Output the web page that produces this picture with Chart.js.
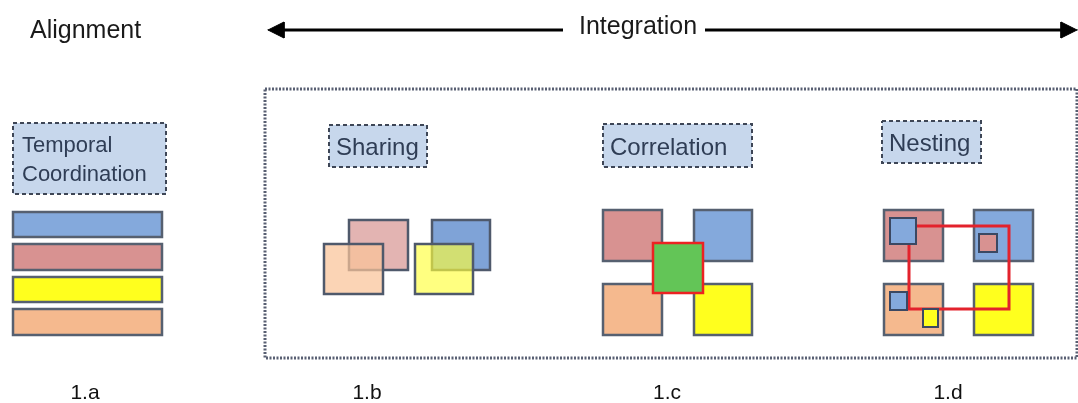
<!DOCTYPE html>
<html>
<head>
<meta charset="utf-8">
<script src="https://cdn.jsdelivr.net/npm/chart.js@4/dist/chart.umd.min.js"></script>
<style>
  html, body { margin: 0; background: #fff; }
  #wrap { width: 1078px; height: 403px; }
</style>
</head>
<body>
<div id="wrap"><canvas id="diagram"></canvas></div>
<script>
// figure units = pixels of the original figure (x right, y down)
const headings = ['Alignment', 'Integration'];
const headingAnchors = [[30, 38], [579, 34]];
const integrationArrows = [[563, 268, 30], [705, 1077, 30]]; // [from, tip, y]

const panelLabels = ['1.a', '1.b', '1.c', '1.d'];
const panelCenters = [85, 367, 667, 948];

const tagNames = [['Temporal', 'Coordination'], ['Sharing'], ['Correlation'], ['Nesting']];
const tagBoxes = [[13, 123, 166, 194], [329, 125, 427, 167], [603, 124, 752, 167], [882, 121, 981, 163]];
const tagBaselines = [[152, 181], [155], [155], [151]];
const tagFontSizes = [22, 24, 24, 24];

const integrationFrame = [265, 89, 1077, 358];

const timelineBars = [[13, 212, 162, 237], [13, 244, 162, 270], [13, 277, 162, 302], [13, 309, 162, 335]];
const timelineKinds = ['blue', 'red', 'yellow', 'orange'];

const sharingBoxes = [[349, 220, 408, 270], [432, 220, 490, 270], [324, 244, 383, 294], [415, 244, 473, 294]];
const sharingKinds = ['pinkBack', 'blueBack', 'peachFront', 'yellowFront'];

const correlationBoxes = [[603, 210, 662, 261], [694, 210, 752, 261], [603, 284, 662, 335], [694, 284, 752, 335]];
const correlationKinds = ['red', 'blue', 'orange', 'yellow'];
const correlationLink = [653, 243, 703, 293];

const nestingBoxes = [[884, 210, 943, 261], [974, 210, 1033, 261], [884, 284, 943, 335], [974, 284, 1033, 335]];
const nestingKinds = ['red', 'blue', 'orange', 'yellow'];
const nestingLink = [909, 226, 1009, 309];
const nestedBoxes = [[890, 218, 916, 244], [979, 234, 997, 252], [890, 292, 907, 310], [923, 309, 938, 327]];
const nestedKinds = ['blue', 'red', 'blue', 'yellow'];

const palette = {
    blue: '#84a9dc',
    red: '#d89291',
    yellow: '#ffff1e',
    orange: '#f5b98e',
    pinkBack: '#e3b4b2',
    blueBack: '#7fa3d7',
    peachFront: 'rgba(250, 196, 152, 0.72)',
    yellowFront: 'rgba(255, 255, 60, 0.65)'
};
const edge = '#566070';
const FONT = '"Liberation Sans", Arial, Helvetica, sans-serif';

const datasets = [];

function addShape(points, opts) {
    datasets.push(Object.assign({
        data: points.map(p => ({ x: p[0], y: p[1] })),
        pointRadius: 0,
        pointHoverRadius: 0,
        tension: 0,
        borderJoinStyle: 'miter',
        borderCapStyle: 'square',
        fill: false,
        order: -datasets.length
    }, opts));
}

function addBox(b, fill, stroke, width, dash) {
    const pts = [[b[0], b[1]], [b[2], b[1]], [b[2], b[3]], [b[0], b[3]], [b[0], b[1]]];
    addShape(pts, {
        backgroundColor: fill || 'transparent',
        borderColor: stroke,
        borderWidth: width,
        borderDash: dash || [],
        borderCapStyle: dash ? 'butt' : 'square',
        fill: fill ? 'shape' : false
    });
}

// heading arrows
integrationArrows.forEach(([from, tip, y]) => {
    const dir = Math.sign(tip - from);
    const base = tip - dir * 16;
    addShape([[from, y], [base, y]], { borderColor: '#000', borderWidth: 3, borderCapStyle: 'butt' });
    addShape([[tip, y], [base, y - 8], [base, y + 8], [tip, y]],
        { backgroundColor: '#000', borderColor: '#000', borderWidth: 1, fill: 'shape' });
});

// dotted frame round the integration panels
addBox(integrationFrame, null, '#585f72', 3, [2, 1.5]);

// dashed tag boxes
tagBoxes.forEach(b => addBox(b, '#c7d7ec', '#3e4656', 2, [4, 3]));

// 1.a timeline bars
timelineBars.forEach((b, i) => addBox(b, palette[timelineKinds[i]], edge, 2.5));

// 1.b sharing
sharingBoxes.forEach((b, i) => addBox(b, palette[sharingKinds[i]], '#4f596b', 2.5));

// 1.c correlation
correlationBoxes.forEach((b, i) => addBox(b, palette[correlationKinds[i]], edge, 2.5));
addBox(correlationLink, '#63c557', '#ec2222', 2.5);

// 1.d nesting
nestingBoxes.forEach((b, i) => addBox(b, palette[nestingKinds[i]], edge, 2.5));
addBox(nestingLink, null, '#e3222c', 3);
nestedBoxes.forEach((b, i) => addBox(b, palette[nestedKinds[i]], '#3b4862', 2));

const textPlugin = {
    id: 'diagramText',
    afterDatasetsDraw(chart) {
        const { ctx, scales: { x, y } } = chart;
        ctx.save();
        ctx.textBaseline = 'alphabetic';

        ctx.fillStyle = '#1a1a1a';
        ctx.font = '25px ' + FONT;
        ctx.textAlign = 'left';
        headings.forEach((t, i) => {
            ctx.fillText(t, x.getPixelForValue(headingAnchors[i][0]), y.getPixelForValue(headingAnchors[i][1]));
        });

        ctx.fillStyle = '#2f3d55';
        tagNames.forEach((lines, i) => {
            ctx.font = tagFontSizes[i] + 'px ' + FONT;
            const left = tagBoxes[i][0] + (i === 0 ? 9 : 7);
            lines.forEach((t, j) => {
                ctx.fillText(t, x.getPixelForValue(left), y.getPixelForValue(tagBaselines[i][j]));
            });
        });

        ctx.fillStyle = '#111';
        ctx.font = '21px ' + FONT;
        ctx.textAlign = 'center';
        panelLabels.forEach((t, i) => {
            ctx.fillText(t, x.getPixelForValue(panelCenters[i]), y.getPixelForValue(399));
        });
        ctx.restore();
    }
};

new Chart(document.getElementById('diagram'), {
    type: 'line',
    data: { datasets },
    options: {
        responsive: true,
        maintainAspectRatio: false,
        animation: false,
        events: [],
        layout: { padding: 0 },
        plugins: { legend: { display: false }, tooltip: { enabled: false } },
        scales: {
            x: { type: 'linear', min: 0, max: 1078, display: false },
            y: { type: 'linear', min: 0, max: 403, reverse: true, display: false }
        }
    },
    plugins: [textPlugin]
});
</script>
</body>
</html>
